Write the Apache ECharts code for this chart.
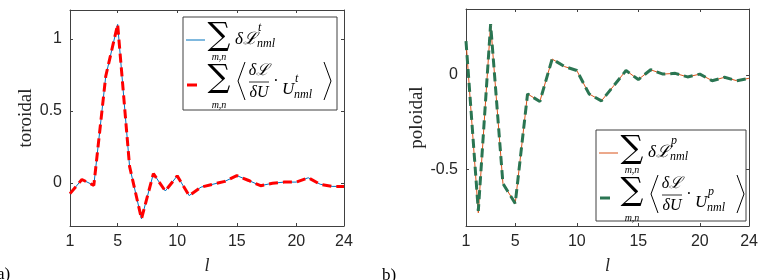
<!DOCTYPE html>
<html>
<head>
<meta charset="utf-8">
<script src="https://cdn.jsdelivr.net/npm/echarts@6/dist/echarts.min.js"></script>
<style>
html, body { margin: 0; padding: 0; background: #fff; }
#main { width: 761px; height: 280px; }
</style>
</head>
<body>
<div id="main"></div>
<script>
// harmonic degree l
var lValues = [1, 2, 3, 4, 5, 6, 7, 8, 9, 10, 11, 12, 13, 14, 15, 16, 17, 18, 19, 20, 21, 22, 23, 24];
// a) toroidal
var toroidalSum = [-0.075, 0.023, -0.018, 0.74, 1.1, 0.114, -0.25, 0.064, -0.057, 0.048, -0.089, -0.03,
	-0.01, 0.01, 0.05, 0.016, -0.02, -0.003, 0.005, 0.005, 0.035, -0.01, -0.025, -0.025];
var toroidalGrad = [-0.075, 0.023, -0.018, 0.74, 1.1, 0.114, -0.25, 0.064, -0.057, 0.048, -0.089, -0.03,
	-0.01, 0.01, 0.05, 0.016, -0.02, -0.003, 0.005, 0.005, 0.035, -0.01, -0.025, -0.025];
// b) poloidal
var poloidalSum = [0.18, -0.73, 0.27, -0.575, -0.68, -0.10, -0.14, 0.085, 0.045, 0.024, -0.10, -0.137,
	-0.057, 0.024, -0.024, 0.028, 0.005, 0.009, -0.01, 0.005, -0.03, -0.012, -0.03, -0.017];
var poloidalGrad = [0.18, -0.72, 0.27, -0.575, -0.68, -0.10, -0.14, 0.085, 0.045, 0.024, -0.10, -0.137,
	-0.057, 0.024, -0.024, 0.028, 0.005, 0.009, -0.01, 0.005, -0.03, -0.012, -0.03, -0.017];
// ticks
var xTicks = [1, 5, 10, 15, 20, 24];
var yTicksA = [0, 0.5, 1];
var yTicksB = [-0.5, 0];

var axisColor = '#404040';
var textColor = '#262626';
var serif = '"Liberation Serif", "DejaVu Serif", serif';
var sans = '"Liberation Sans", Arial, sans-serif';

function pairs(xs, ys) {
	return xs.map(function(x, i) { return [x, ys[i]]; });
}

function makeX(grid, pos) {
	var main = pos == 'bottom';
	return {
		type: 'value', gridIndex: grid, position: pos, min: 1, max: 24,
		name: main ? 'l' : '', nameLocation: 'middle', nameGap: 31,
		nameTextStyle: { fontFamily: serif, fontStyle: 'italic', fontSize: 18, color: textColor },
		axisLine: { show: true, onZero: false, lineStyle: { color: axisColor, width: 1 } },
		axisTick: { show: true, inside: true, length: 3, customValues: xTicks, lineStyle: { color: axisColor } },
		axisLabel: { show: main, customValues: xTicks, margin: 8, fontFamily: sans, fontSize: 16, color: textColor },
		splitLine: { show: false }
	};
}

function makeY(grid, pos, min, max, ticks, label) {
	var main = pos == 'left';
	return {
		type: 'value', gridIndex: grid, position: pos, min: min, max: max,
		name: main ? label : '', nameLocation: 'middle', nameGap: 34,
		nameTextStyle: { fontFamily: serif, fontSize: 19, color: textColor },
		axisLine: { show: true, onZero: false, lineStyle: { color: axisColor, width: 1 } },
		axisTick: { show: true, inside: true, length: 3, customValues: ticks, lineStyle: { color: axisColor } },
		axisLabel: { show: main, customValues: ticks, margin: 8, fontFamily: sans, fontSize: 16, color: textColor },
		splitLine: { show: false }
	};
}

function lineSeries(name, xi, yi, data, color, width, dashed) {
	return {
		name: name, type: 'line', xAxisIndex: xi, yAxisIndex: yi,
		data: pairs(lValues, data), showSymbol: false, silent: true, animation: false,
		lineStyle: { color: color, width: width, type: dashed ? [9, 5] : 'solid' }
	};
}

// legend drawn with graphic elements (math text)
function legendBox(x0, y0, w, h, solidColor, dashColor, sup) {
	var t = function(x, y, txt, font, align) {
		return { type: 'text', x: x0 + x, y: y0 + y,
			style: { text: txt, font: font, fill: '#000', align: align || 'left', verticalAlign: 'middle' } };
	};
	var ln = function(x1, y1, x2, y2, color, lw) {
		return { type: 'line', shape: { x1: x0 + x1, y1: y0 + y1, x2: x0 + x2, y2: y0 + y2 },
			style: { stroke: color, lineWidth: lw } };
	};
	var poly = function(pts) {
		return { type: 'polyline', shape: { points: pts.map(function(p) { return [x0 + p[0], y0 + p[1]]; }) },
			style: { stroke: '#000', lineWidth: 1, fill: null } };
	};
	var sigma = 'normal 32px "DejaVu Serif"';
	var small = 'italic 10px ' + serif;
	var it = 'italic 17px ' + serif;
	var sub = 'italic 12px ' + serif;
	return [
		{ type: 'rect', shape: { x: x0, y: y0, width: w, height: h },
			style: { fill: '#fff', stroke: axisColor, lineWidth: 1 } },
		// row 1
		ln(3, 23, 22, 23, solidColor, 1),
		t(36, 20, '\u2211', sigma, 'center'),
		t(36, 40, 'm,n', small, 'center'),
		t(52, 23, '\u03b4\u2112', it),
		t(75, 11, sup, sub),
		t(74, 27, 'nml', sub),
		// row 2
		ln(4, 68, 14, 68, dashColor, 3),
		t(36, 62, '\u2211', sigma, 'center'),
		t(36, 88, 'm,n', small, 'center'),
		poly([[62, 45], [55, 64], [62, 83]]),
		t(76, 54, '\u03b4\u2112', 'italic 16px ' + serif, 'center'),
		ln(66, 65, 86, 65, '#000', 0.8),
		t(76, 76, '\u03b4U', 'italic 16px ' + serif, 'center'),
		t(93, 65, '\u00b7', 'normal 16px ' + serif, 'center'),
		t(99, 73, 'U', it),
		t(112, 62, sup, sub),
		t(111, 78, 'nml', sub),
		poly([[141, 45], [148, 64], [141, 83]])
	];
}

var myChart = echarts.init(document.getElementById('main'));
var option = {
	backgroundColor: '#fff',
	animation: false,
	grid: [
		{ left: 70, top: 10, width: 274, height: 219 },
		{ left: 466, top: 9, width: 287, height: 220 }
	],
	xAxis: [makeX(0, 'bottom'), makeX(0, 'top'), makeX(1, 'bottom'), makeX(1, 'top')],
	yAxis: [
		makeY(0, 'left', -0.3, 1.2, yTicksA, 'toroidal'),
		makeY(0, 'right', -0.3, 1.2, yTicksA, ''),
		makeY(1, 'left', -0.8, 0.35, yTicksB, 'poloidal'),
		makeY(1, 'right', -0.8, 0.35, yTicksB, '')
	],
	series: [
		lineSeries('sum t', 0, 0, toroidalSum, '#0072BD', 1, false),
		lineSeries('grad t', 0, 0, toroidalGrad, '#FF0000', 3, true),
		lineSeries('sum p', 2, 2, poloidalSum, '#D95319', 1, false),
		lineSeries('grad p', 2, 2, poloidalGrad, '#2A7552', 3, true)
	],
	graphic: legendBox(183, 17, 154, 93, '#0072BD', '#FF0000', 't')
		.concat(legendBox(596, 130, 150, 91, '#D95319', '#2A7552', 'p'))
		.concat([
			{ type: 'text', x: -3, y: 275, style: { text: 'a)', font: 'normal 17px ' + serif, fill: '#000', verticalAlign: 'middle' } },
			{ type: 'text', x: 382, y: 276, style: { text: 'b)', font: 'normal 17px ' + serif, fill: '#000', verticalAlign: 'middle' } }
		])
};
myChart.setOption(option);
window.onresize = myChart.resize;
</script>
</body>
</html>
